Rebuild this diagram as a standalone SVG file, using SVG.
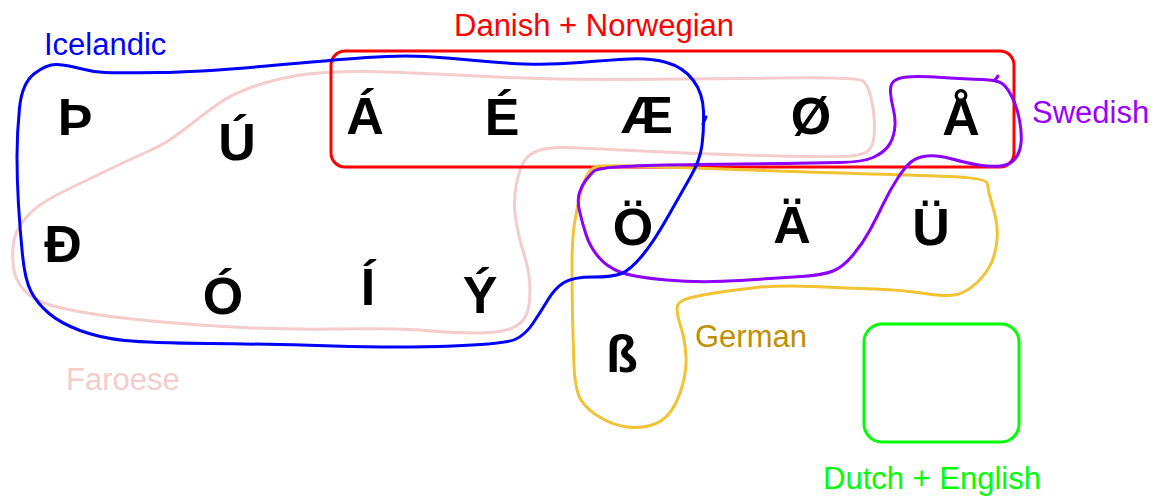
<svg xmlns="http://www.w3.org/2000/svg" width="1157" height="497" viewBox="0 0 1157 497">
<style>
.set{fill:none;stroke-width:3;stroke-linejoin:round;stroke-linecap:round}
.lab{font-family:"Liberation Sans",Arial,sans-serif;font-size:31px}
.ch{font-family:"Liberation Sans",Arial,sans-serif;font-size:52px;font-weight:bold;fill:#000;text-anchor:middle}
</style>
<rect width="1157" height="497" fill="#fff"/>
<g id="sets">
<g id="set-faroese">
<path class="set" stroke="#f4cccc" d="M66.5,190 Q83,182 108,170 Q133,158 150,150.5 Q167,143 183.5,130 Q200,117 216.5,105 Q233,93 258,85 Q283,77 308,74 Q333,71 366.5,71.5 Q400,72 475,76 Q550,80 625,79.5 Q700,79 779,78 Q858,77 863,81 Q868,85 871,97.5 Q874,110 874.5,125 Q875,140 870.5,148 Q866,156 841.5,156.5 Q817,157 758.5,155.5 Q700,154 641.5,151 Q583,148 566.5,147.5 Q550,147 540,150 Q530,153 525,160 Q520,167 516.5,183.5 Q513,200 515.5,217.5 Q518,235 524,254 Q530,273 530,290 Q530,307 526,315.5 Q522,324 511,328.5 Q500,333 475,333 Q450,333 425,330.5 Q400,328 333.5,329 Q267,330 200,325 Q133,320 100,315 Q67,310 50,305 Q33,300 24,290 Q15,280 13.5,267.5 Q12,255 13.5,243.5 Q15,232 22.5,222 Q30,212 40,205 Q50,198 66.5,190 Z"/>
<text class="lab" x="66" y="390" fill="#f4cccc">Faroese</text>
</g>
<g id="set-danish-norwegian">
<rect class="set" x="331" y="51" width="683" height="116" rx="14" stroke="#ff0000" stroke-width="2.5"/>
<text class="lab" x="454" y="36" fill="#ff0000">Danish + Norwegian</text>
</g>
<g id="set-german">
<path class="set" stroke="#f1c232" d="M596,166.5 Q600,165 650,166.5 Q700,168 750,170 Q800,172 856.5,173.5 Q913,175 950,176.5 Q987,178 987.5,184 Q988,190 990.5,198.5 Q993,207 995.5,217.5 Q998,228 997,240 Q996,252 991.5,262.5 Q987,273 977,282.5 Q967,292 957,294.5 Q947,297 925,293.5 Q903,290 875,289 Q847,288 813.5,286.5 Q780,285 756.5,287.5 Q733,290 711.5,293.5 Q690,297 683.5,300 Q677,303 677,309 Q677,315 681,327.5 Q685,340 686,356.5 Q687,373 680,393 Q673,413 661.5,420.5 Q650,428 633.5,427.5 Q617,427 602,418.5 Q587,410 581,400 Q575,390 574,365 Q573,340 572.5,315 Q572,290 572,265 Q572,240 574.5,223.5 Q577,207 580.5,193.5 Q584,180 588,174 Q592,168 596,166.5 Z"/>
<text class="lab" x="695" y="347" fill="#bf9000">German</text>
</g>
<g id="set-swedish">
<path class="set" stroke="#8b00ff" d="M593.5,171.5 Q597,168 623.5,166.5 Q650,165 700,164.5 Q750,164 783.5,163.5 Q817,163 840,162.5 Q863,162 873,157.5 Q883,153 888,146.5 Q893,140 894.5,130 Q896,120 893.5,110 Q891,100 890.5,92.5 Q890,85 893.5,81.5 Q897,78 907,77 Q917,76 942,77.5 Q967,79 982,79.5 Q997,80 1002,83.5 Q1007,87 1012,97 Q1017,107 1019.5,120 Q1022,133 1021,143 Q1020,153 1015,159 Q1010,165 1000,166 Q990,167 978.5,165 Q967,163 952,159 Q937,155 927,156 Q917,157 911,162 Q905,167 897.5,178.5 Q890,190 883.5,203.5 Q877,217 870,230 Q863,243 853,255 Q843,267 833,271 Q823,275 801.5,276.5 Q780,278 740,280.5 Q700,283 666.5,280 Q633,277 620,272 Q607,267 598.5,257 Q590,247 586,234.5 Q582,222 579.5,211 Q577,200 579.5,192.5 Q582,185 586,180 Q590,175 593.5,171.5 Z"/>
<path class="set" stroke="#8b00ff" d="M995,80 L998,76"/>
<text class="lab" x="1032" y="123" fill="#9900ff">Swedish</text>
</g>
<g id="set-icelandic">
<path class="set" stroke="#0000ff" d="M19.5,108 Q22,83 34.5,73.5 Q47,64 57,64.5 Q67,65 80,68.5 Q93,72 105,72.5 Q117,73 158.5,72.5 Q200,72 266.5,66 Q333,60 366.5,57.5 Q400,55 425,56.5 Q450,58 475,60.5 Q500,63 525,64 Q550,65 580,62.5 Q610,60 630,59 Q650,58 666.5,62.5 Q683,67 693,80 Q703,93 703.5,111.5 Q704,130 702,145 Q700,160 691.5,175 Q683,190 668,216.5 Q653,243 641.5,256.5 Q630,270 621.5,273.5 Q613,277 593,277 Q573,277 564,282.5 Q555,288 547.5,300.5 Q540,313 532.5,324 Q525,335 515,339.5 Q505,344 452.5,346 Q400,348 333.5,346 Q267,344 208.5,343.5 Q150,343 125,340.5 Q100,338 80,330.5 Q60,323 48.5,313 Q37,303 31,291.5 Q25,280 22.5,255 Q20,230 18.5,205 Q17,180 17,156.5 Q17,133 19.5,108 Z"/>
<path class="set" stroke="#0000ff" d="M703,124 L706,117"/>
<text class="lab" x="44" y="55" fill="#0000ff">Icelandic</text>
</g>
<g id="set-dutch-english">
<rect class="set" x="864" y="324" width="155" height="118" rx="18" stroke="#00ff00"/>
<text class="lab" x="823" y="489" fill="#00ff00">Dutch + English</text>
</g>
</g>
<g id="letters">
<g id="l-thorn"><text class="ch" x="75" y="135">Þ</text></g>
<g id="l-uacute"><text class="ch" x="237" y="160">Ú</text></g>
<g id="l-aacute"><text class="ch" x="365" y="134">Á</text></g>
<g id="l-eacute"><text class="ch" x="502" y="135">É</text></g>
<g id="l-ae"><text class="ch" x="647" y="133">Æ</text></g>
<g id="l-oslash"><text class="ch" x="811" y="134">Ø</text></g>
<g id="l-aring"><text class="ch" x="961" y="135">Å</text></g>
<g id="l-eth"><text class="ch" x="63" y="262">Ð</text></g>
<g id="l-oacute"><text class="ch" x="223" y="314">Ó</text></g>
<g id="l-iacute"><text class="ch" x="368" y="305">Í</text></g>
<g id="l-yacute"><text class="ch" x="480" y="313">Ý</text></g>
<g id="l-ouml"><text class="ch" x="633" y="245">Ö</text></g>
<g id="l-auml"><text class="ch" x="792" y="243">Ä</text></g>
<g id="l-uuml"><text class="ch" x="931" y="245">Ü</text></g>
<g id="l-szlig"><text class="ch" x="622" y="372">ß</text></g>
</g>
</svg>
